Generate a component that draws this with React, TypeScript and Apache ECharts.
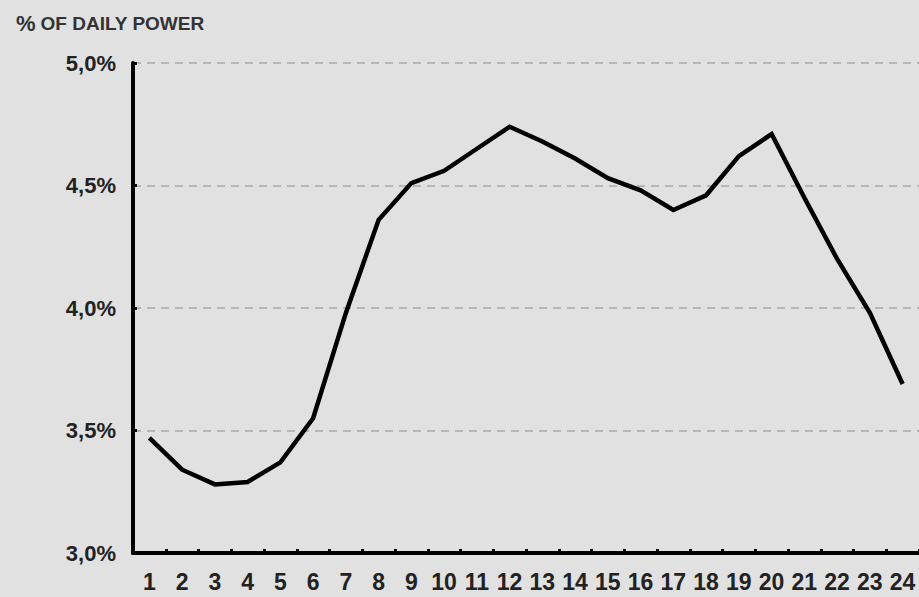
import React, { useEffect, useRef } from "react";
import * as echarts from "echarts";

const hours = ["1","2","3","4","5","6","7","8","9","10","11","12","13","14","15","16","17","18","19","20","21","22","23","24"];
const dailyShare = [3.47, 3.34, 3.28, 3.29, 3.37, 3.55, 3.98, 4.36, 4.51, 4.56, 4.65, 4.74, 4.68, 4.61, 4.53, 4.48, 4.40, 4.46, 4.62, 4.71, 4.45, 4.20, 3.98, 3.69];

export default function App() {
  const ref = useRef<HTMLDivElement>(null);
  useEffect(() => {
    if (!ref.current) return;
    const chart = echarts.init(ref.current, null, { renderer: "svg" });
    chart.setOption({
      animation: false,
      backgroundColor: "#e1e1e1",
      title: {
        text: "{p|%} {t|OF DAILY POWER}",
        left: 11,
        top: 7,
        textStyle: {
          rich: {
            p: { fontSize: 22, fontWeight: "bold", color: "#333", fontFamily: "Liberation Sans" },
            t: { fontSize: 19, fontWeight: "bold", color: "#333", fontFamily: "Liberation Sans" },
          },
        },
      },
      grid: { left: 133, top: 63, bottom: 44, width: 790 },
      xAxis: {
        type: "category",
        data: hours,
        boundaryGap: true,
        axisLine: { lineStyle: { color: "#000", width: 4 } },
        axisTick: { show: true, inside: true, length: 4, lineStyle: { color: "#000", width: 3 } },
        axisLabel: { color: "#222", fontSize: 23, fontWeight: "bold", fontFamily: "Liberation Sans", margin: 17, interval: 0 },
        splitLine: { show: false },
      },
      yAxis: {
        type: "value",
        min: 3.0,
        max: 5.0,
        interval: 0.5,
        axisLine: { show: true, lineStyle: { color: "#000", width: 4 } },
        axisTick: { show: true, inside: true, length: 4, lineStyle: { color: "#000", width: 3 } },
        axisLabel: {
          color: "#222",
          fontSize: 22,
          fontWeight: "bold",
          fontFamily: "Liberation Sans",
          margin: 17,
          formatter: (v: number) => v.toFixed(1).replace(".", ",") + "%",
        },
        splitLine: { show: true, lineStyle: { color: "#a8a8a8", width: 1.5, type: [8, 6] } },
      },
      series: [
        {
          type: "line",
          data: dailyShare,
          showSymbol: false,
          symbol: "none",
          lineStyle: { color: "#000", width: 4.5, join: "miter" },
        },
      ],
    });
    return () => chart.dispose();
  }, []);
  return <div ref={ref} style={{ position: "fixed", left: 0, top: 0, width: 919, height: 597 }} />;
}
